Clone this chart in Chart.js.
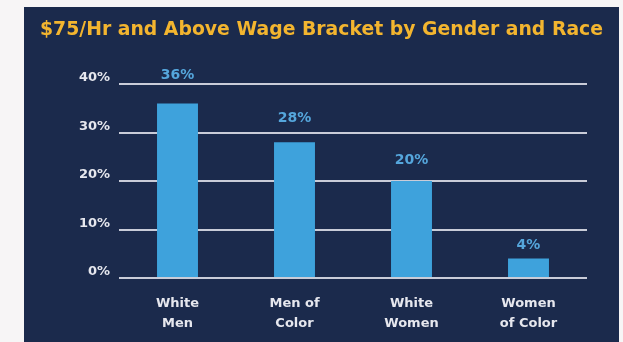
<!DOCTYPE html>
<html lang="en">
<head>
    <meta charset="UTF-8">
    <title>$75/Hr and Above Wage Bracket by Gender and Race</title>
    <style>
        body {
            margin: 0;
            background-color: #f7f5f6;
        }
        .panel {
            position: absolute;
            left: 24px;
            top: 7px;
            width: 595px;
            height: 335px;
            background-color: #1b2a4c;
        }
    </style>
</head>
<body>
    <div class="panel">
        <canvas id="wageChart" width="595" height="335"></canvas>
    </div>
    <script src="https://cdn.jsdelivr.net/npm/chart.js"></script>
    <script>
        const chartTitle = '$75/Hr and Above Wage Bracket by Gender and Race';
        const categories = [['White', 'Men'], ['Men of', 'Color'], ['White', 'Women'], ['Women', 'of Color']];
        const shares = [36, 28, 20, 4];
        const yTicks = [0, 10, 20, 30, 40];

        // percentage labels above each bar (taller bars get a bit more room)
        const valueLabels = {
            id: 'valueLabels',
            afterDatasetsDraw(chart) {
                const ctx = chart.ctx;
                ctx.save();
                ctx.font = 'bold 14px "DejaVu Sans"';
                ctx.fillStyle = '#55a6dc';
                ctx.textAlign = 'center';
                ctx.textBaseline = 'middle';
                chart.getDatasetMeta(0).data.forEach((bar, i) => {
                    ctx.fillText(shares[i] + '%', bar.x, bar.y - 11 - shares[i] * 0.47);
                });
                ctx.restore();
            }
        };

        // title drawn across the full panel width (the built-in one gets squeezed by the padding)
        const wideTitle = {
            id: 'wideTitle',
            afterDraw(chart) {
                const ctx = chart.ctx;
                ctx.save();
                ctx.font = 'bold 19px "DejaVu Sans"';
                ctx.fillStyle = '#f3b52f';
                ctx.textAlign = 'center';
                ctx.textBaseline = 'middle';
                ctx.fillText(chartTitle, chart.width / 2, 23, 563);
                ctx.restore();
            }
        };

        new Chart(document.getElementById('wageChart'), {
            type: 'bar',
            data: {
                labels: categories,
                datasets: [{
                    data: shares,
                    backgroundColor: '#3ea2dc',
                    barPercentage: 0.35,
                    categoryPercentage: 1
                }]
            },
            options: {
                responsive: false,
                animation: false,
                layout: { padding: { top: 77, left: 32, right: 32, bottom: 0 } },
                plugins: {
                    legend: { display: false },
                    tooltip: { enabled: false }
                },
                scales: {
                    x: {
                        grid: { display: false },
                        border: { display: false },
                        ticks: {
                            color: '#e6e7ee',
                            font: { family: 'DejaVu Sans', size: 13, weight: 'bold', lineHeight: 1.5 },
                            padding: 8,
                            maxRotation: 0
                        },
                        afterFit: s => { s.height = 64; }
                    },
                    y: {
                        min: 0,
                        max: 40,
                        afterBuildTicks: s => { s.ticks = yTicks.map(v => ({ value: v })); },
                        grid: { color: '#c9ccd8', lineWidth: 2, drawTicks: false },
                        border: { display: false },
                        ticks: {
                            color: '#e6e7ee',
                            font: { family: 'DejaVu Sans', size: 13, weight: 'bold' },
                            padding: 9,
                            labelOffset: -6,
                            callback: v => v + '%'
                        },
                        afterFit: s => { s.width = 63; }
                    }
                }
            },
            plugins: [valueLabels, wideTitle]
        });
    </script>
</body>
</html>
